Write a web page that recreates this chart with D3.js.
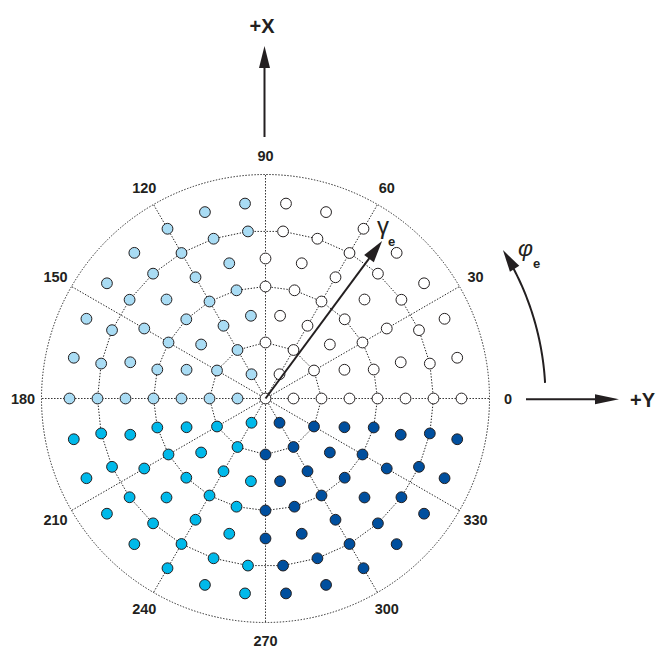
<!DOCTYPE html>
<html>
<head>
<meta charset="utf-8">
<script src="https://cdn.jsdelivr.net/npm/d3@7"></script>
<style>
  html, body { margin: 0; padding: 0; background: #fff; }
  svg { display: block; }
  text { font-family: "Liberation Sans", Arial, sans-serif; fill: #231f20; }
</style>
</head>
<body>
<svg id="chart" width="659" height="648"></svg>
<script>
// ---------- data ----------
const ringElevation = [10, 20, 30, 40, 50, 60, 70];
const ringAzimuths = [
  [0, 60, 120, 180, 240, 300],
  [0, 30, 60, 90, 120, 150, 180, 210, 240, 270, 300, 330],
  [0, 20, 40, 60, 80, 100, 120, 140, 160, 180, 200, 220, 240, 260, 280, 300, 320, 340],
  [0, 15, 30, 45, 60, 75, 90, 105, 120, 135, 150, 165, 180, 195, 210, 225, 240, 255, 270, 285, 300, 315, 330, 345],
  [0, 15, 30, 45, 60, 75, 90, 105, 120, 135, 150, 165, 180, 195, 210, 225, 240, 255, 270, 285, 300, 315, 330, 345],
  [0, 12, 24, 36, 48, 60, 72, 84, 96, 108, 120, 132, 144, 156, 168, 180, 192, 204, 216, 228, 240, 252, 264, 276, 288, 300, 312, 324, 336, 348],
  [0, 12, 24, 36, 48, 60, 72, 84, 96, 108, 120, 132, 144, 156, 168, 180, 192, 204, 216, 228, 240, 252, 264, 276, 288, 300, 312, 324, 336, 348]
];
const gridRingElevation = [20, 40, 60];
const outerElevation = 80;
const spokeAzimuths = [0, 30, 60, 90, 120, 150, 180, 210, 240, 270, 300, 330];
const spokeLabels = ["0", "30", "60", "90", "120", "150", "180", "210", "240", "270", "300", "330"];
const quadrantColors = ["#ffffff", "#a9dcf4", "#00b9ea", "#004f9e"];
const gammaVector = { elevation: 70, azimuth: 53.5 };
const phiArc = { from: 3.2, to: 32 };

// ---------- layout ----------
const cx = 265.5, cy = 398.5;
const svg = d3.select("#chart");
const r = d3.scaleLinear().domain([0, outerElevation]).range([0, 224]);
const ang = d3.scaleLinear().domain([0, 360]).range([0, 2 * Math.PI]);
const px = (el, az) => cx + r(el) * Math.cos(ang(az));
const py = (el, az) => cy - r(el) * Math.sin(ang(az));
const quadrant = az => az <= 90 ? 0 : az <= 180 ? 1 : az < 270 ? 2 : 3;

const dotted = sel => sel.attr("fill", "none").attr("stroke", "#222")
  .attr("stroke-width", 1).attr("stroke-dasharray", "1.4,1.6");

const g = svg.append("g");

// outer circle
g.append("circle").attr("cx", cx).attr("cy", cy).attr("r", r(outerElevation)).call(dotted);

// spokes
g.selectAll("line.spoke").data(spokeAzimuths).join("line")
  .attr("class", "spoke")
  .attr("x1", cx).attr("y1", cy)
  .attr("x2", d => px(outerElevation, d)).attr("y2", d => py(outerElevation, d))
  .call(dotted);

// polygonal grid rings through the points
const line = d3.line().curve(d3.curveLinearClosed);
gridRingElevation.forEach(el => {
  const idx = ringElevation.indexOf(el);
  const pts = ringAzimuths[idx].map(az => [px(el, az), py(el, az)]);
  g.append("path").attr("d", line(pts)).call(dotted);
});

// points
const points = [{ el: 0, az: 0 }];
ringElevation.forEach((el, i) => ringAzimuths[i].forEach(az => points.push({ el, az })));
g.selectAll("circle.pt").data(points).join("circle")
  .attr("class", "pt")
  .attr("cx", d => px(d.el, d.az)).attr("cy", d => py(d.el, d.az))
  .attr("r", 5.4)
  .attr("fill", d => quadrantColors[quadrant(d.az)])
  .attr("stroke", "#231f20").attr("stroke-width", 1);

// spoke labels
g.selectAll("text.lab").data(spokeAzimuths).join("text")
  .attr("class", "lab")
  .attr("x", d => px(outerElevation, d) + 18.5 * Math.cos(ang(d)))
  .attr("y", d => py(outerElevation, d) - 18.5 * Math.sin(ang(d)) + 5)
  .attr("text-anchor", "middle")
  .attr("font-size", 14.5).attr("font-weight", "bold")
  .text((d, i) => spokeLabels[i]);

// arrowheads
function head(x, y, angleRad, len, w) {
  const bx = x - len * Math.cos(angleRad), by = y - len * Math.sin(angleRad);
  const nx = -Math.sin(angleRad) * w / 2, ny = Math.cos(angleRad) * w / 2;
  return `M${x},${y}L${bx + nx},${by + ny}L${bx - nx},${by - ny}Z`;
}

// gamma vector
const gx = px(gammaVector.elevation, gammaVector.azimuth), gy = py(gammaVector.elevation, gammaVector.azimuth);
const gAng = Math.atan2(gy - cy, gx - cx);
g.append("line").attr("x1", cx).attr("y1", cy)
  .attr("x2", gx - 15 * Math.cos(gAng)).attr("y2", gy - 15 * Math.sin(gAng))
  .attr("stroke", "#231f20").attr("stroke-width", 2);
g.append("path").attr("d", head(gx, gy, gAng, 22, 12)).attr("fill", "#231f20");
g.append("text").attr("x", 377).attr("y", 234).attr("font-size", 24)
  .attr("font-family", "Liberation Serif").text("γ");
g.append("text").attr("x", 388).attr("y", 246).attr("font-size", 13)
  .attr("font-weight", "bold").text("e");

// +X axis arrow
g.append("line").attr("x1", 264.5).attr("y1", 137).attr("x2", 264.5).attr("y2", 62)
  .attr("stroke", "#231f20").attr("stroke-width", 2);
g.append("path").attr("d", head(264.5, 46, -Math.PI / 2, 22, 11)).attr("fill", "#231f20");
g.append("text").attr("x", 262).attr("y", 33).attr("text-anchor", "middle")
  .attr("font-size", 20).attr("font-weight", "bold").text("+X");

// +Y axis arrow
g.append("line").attr("x1", 526).attr("y1", 399.3).attr("x2", 600).attr("y2", 399.3)
  .attr("stroke", "#231f20").attr("stroke-width", 2);
g.append("path").attr("d", head(619, 399.3, 0, 24, 10)).attr("fill", "#231f20");
g.append("text").attr("x", 630).attr("y", 407).attr("font-size", 20)
  .attr("font-weight", "bold").text("+Y");

// phi arc arrow
const arcR = 280;
const arcPts = d3.range(phiArc.from, phiArc.to - 4, 0.5).map(a => [cx + arcR * Math.cos(ang(a)), cy - arcR * Math.sin(ang(a))]);
g.append("path").attr("d", d3.line()(arcPts)).attr("fill", "none")
  .attr("stroke", "#231f20").attr("stroke-width", 2);
const tipX = cx + arcR * Math.cos(ang(phiArc.to)), tipY = cy - arcR * Math.sin(ang(phiArc.to));
const tangent = ang(phiArc.to) + Math.PI / 2;
g.append("path").attr("d", head(tipX, tipY, Math.atan2(-Math.sin(tangent), Math.cos(tangent)), 22, 11))
  .attr("fill", "#231f20");
g.append("text").attr("x", 518).attr("y", 256).attr("font-size", 23)
  .attr("font-style", "italic").attr("font-family", "DejaVu Serif").text("φ");
g.append("text").attr("x", 533).attr("y", 268).attr("font-size", 13)
  .attr("font-weight", "bold").text("e");
</script>
</body>
</html>
